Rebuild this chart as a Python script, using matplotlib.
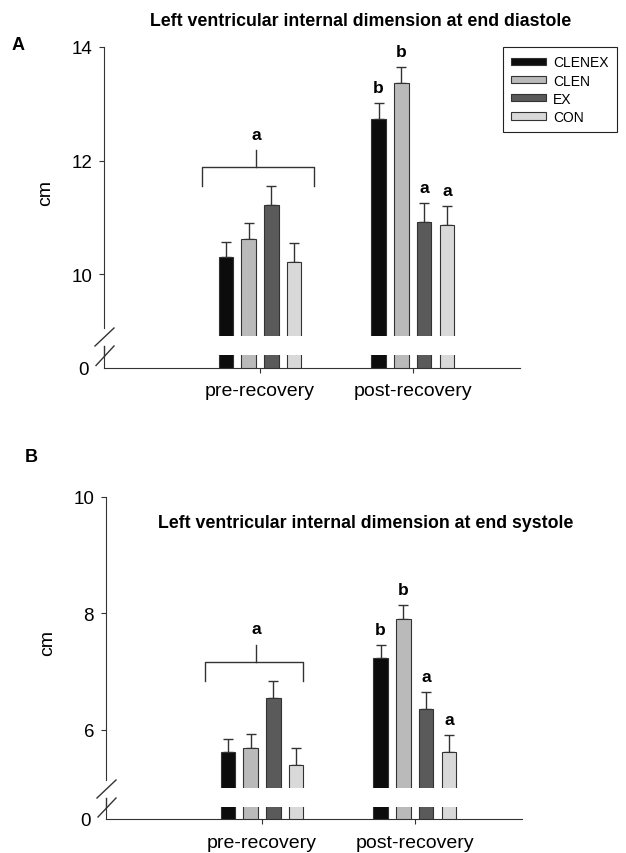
import numpy as np
import matplotlib
matplotlib.use("Agg")
import matplotlib.pyplot as plt
from matplotlib.patches import Patch
from matplotlib.lines import Line2D

plt.rcParams['font.family'] = ['Liberation Sans', 'DejaVu Sans']

# data
groups = ['pre-recovery', 'post-recovery']
series = ['CLENEX', 'CLEN', 'EX', 'CON']
colors = ['#0c0c0c', '#bababa', '#5a5a5a', '#d9d9d9']

# rows = group, cols = series
lvidd_mean = np.array([[10.30, 10.62, 11.22, 10.21],
                       [12.73, 13.37, 10.92, 10.86]])
lvidd_sem = np.array([[0.26, 0.28, 0.33, 0.34],
                      [0.28, 0.28, 0.33, 0.34]])
lvidd_letters = [['', '', '', ''], ['b', 'b', 'a', 'a']]

lvids_mean = np.array([[5.62, 5.69, 6.55, 5.40],
                       [7.24, 7.91, 6.36, 5.62]])
lvids_sem = np.array([[0.23, 0.24, 0.29, 0.29],
                      [0.22, 0.24, 0.29, 0.29]])
lvids_letters = [['', '', '', ''], ['b', 'b', 'a', 'a']]

W, H = 626, 854
fig = plt.figure(figsize=(W / 100, H / 100), dpi=100)
EDGE = '#333333'


def rect(x0, y0, x1, y1):
    return [x0 / W, 1 - y1 / H, (x1 - x0) / W, (y1 - y0) / H]


def fline(x0, y0, x1, y1):
    fig.add_artist(Line2D([x0 / W, x1 / W], [1 - y0 / H, 1 - y1 / H],
                          transform=fig.transFigure, color=EDGE, lw=1))


offsets = np.array([-0.225, -0.075, 0.075, 0.225])
bw = 0.092
xlim = (-1.02, 1.70)
bracket_x = {'A': (-0.379, 0.353, -0.026), 'B': (-0.373, 0.268, -0.039)}


def panel(xa, y_top, y_cut, y_low, y_base, ylim, yticks, means, sems, letters,
          brk, title, title_xy, label, label_xy):
    ax = fig.add_axes(rect(xa, y_top, xa + 416, y_cut))
    axl = fig.add_axes(rect(xa, y_low, xa + 416, y_base))
    x = np.arange(len(groups))
    for k in range(len(series)):
        for a in (ax, axl):
            a.bar(x + offsets[k], means[:, k], width=bw, color=colors[k],
                  edgecolor=EDGE, linewidth=0.8, label=series[k], zorder=3)
        ax.errorbar(x + offsets[k], means[:, k],
                    yerr=[np.zeros(len(groups)), sems[:, k]], fmt='none',
                    ecolor=EDGE, elinewidth=1, capsize=3.6, capthick=1, zorder=2)
    ax.set_xlim(*xlim)
    axl.set_xlim(*xlim)
    ax.set_ylim(*ylim)
    axl.set_ylim(0, 1)
    ppu = (y_cut - y_top) / (ylim[1] - ylim[0])

    for a in (ax, axl):
        for s in ('top', 'right'):
            a.spines[s].set_visible(False)
        a.spines['left'].set_color(EDGE)
        a.spines['bottom'].set_color(EDGE)
        a.set_facecolor('none')
    ax.spines['bottom'].set_visible(False)
    ax.spines['left'].set_bounds(ylim[1] - (brk[0] - y_top) / ppu, ylim[1])
    ax.set_xticks([])
    ax.set_yticks(yticks)
    ax.tick_params(axis='y', length=3.6, width=0.8, color=EDGE, pad=5, labelsize=13.5)
    ax.set_ylabel('cm', fontsize=14, labelpad=12)

    axl.set_yticks([0])
    axl.tick_params(axis='y', length=0, pad=11, labelsize=13.5)
    axl.set_xticks(x)
    axl.set_xticklabels(groups, fontsize=14)
    axl.tick_params(axis='x', length=3.6, width=0.8, color=EDGE, pad=7)
    axl.plot([0, 0], [1, 1 + (y_low - brk[1]) / (y_base - y_low)],
             transform=axl.transAxes, color=EDGE, lw=1, clip_on=False)

    # break marks
    fline(xa - 9, brk[1], xa + 10, brk[0])
    fline(xa - 8, y_base - 2, xa + 10, brk[1])

    # letters over bars
    for g in range(len(groups)):
        for k in range(len(series)):
            if letters[g][k]:
                ax.annotate(letters[g][k], (x[g] + offsets[k], means[g, k] + sems[g, k]),
                            xytext=(0, 11), textcoords='offset points',
                            ha='center', va='center', fontsize=12.5, fontweight='bold')

    # bracket over pre-recovery group
    top = (means[0] + sems[0]).max()
    bx0, bx1, bstem = bracket_x[label]
    hy = top + 19 / ppu
    ax.plot([bx0, bx0, bx1, bx1], [top, hy, hy, top], color=EDGE, lw=1, zorder=4)
    ax.plot([bstem, bstem], [hy, hy + 17 / ppu], color=EDGE, lw=1, zorder=4)
    ax.text(bstem, hy + 33 / ppu, 'a', ha='center', va='center',
            fontsize=12.5, fontweight='bold')

    fig.text(title_xy[0] / W, 1 - title_xy[1] / H, title, ha='left', va='center',
             fontsize=12.8, fontweight='bold')
    fig.text(label_xy[0] / W, 1 - label_xy[1] / H, label, ha='left', va='center',
             fontsize=13, fontweight='bold')
    return ax


axA = panel(104, 48, 337, 356, 368.5, (8.91, 14), [10, 12, 14], lvidd_mean, lvidd_sem,
            lvidd_letters, (329, 347),
            'Left ventricular internal dimension at end diastole', (150, 21), 'A', (12, 45))
panel(106, 498, 789, 808, 820, (5.0, 10), [6, 8, 10], lvids_mean, lvids_sem,
      lvids_letters, (781, 799),
      'Left ventricular internal dimension at end systole', (158, 524), 'B', (25, 457))

handles = [Patch(facecolor=colors[k], edgecolor=EDGE, linewidth=0.8) for k in range(len(series))]
leg = axA.legend(handles, series, loc='upper left', bbox_to_anchor=(503 / W, 1 - 48 / H),
                 bbox_transform=fig.transFigure, borderaxespad=0, fancybox=False,
                 edgecolor='#222222', fontsize=10, handlelength=2.5, handleheight=0.45,
                 labelspacing=0.3, handletextpad=0.5, borderpad=0.6, framealpha=1)
leg.get_frame().set_linewidth(0.8)

fig.savefig('out.png', dpi=100)
